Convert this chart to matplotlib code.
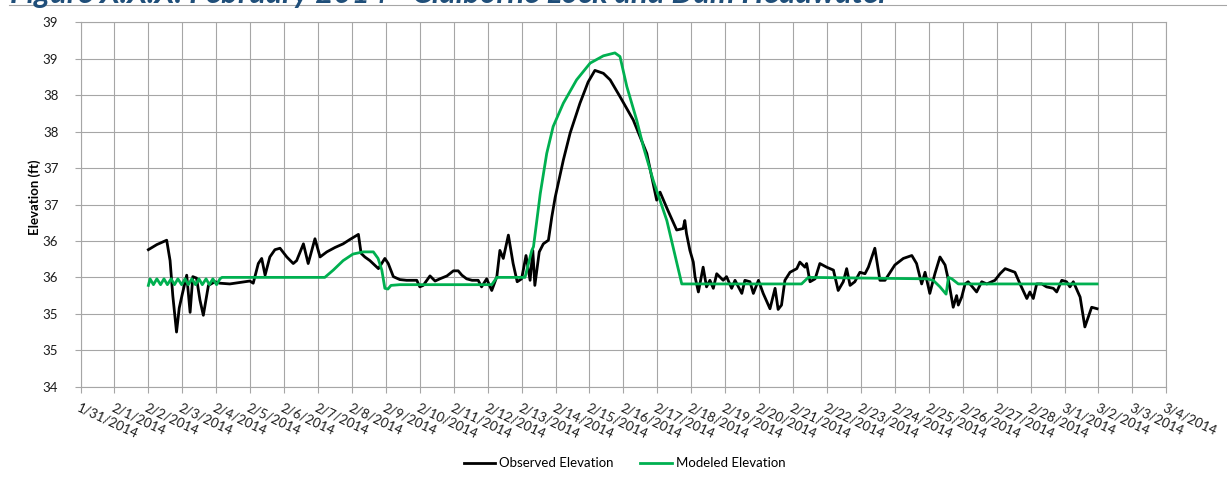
import matplotlib
matplotlib.use("Agg")
import matplotlib.pyplot as plt
import matplotlib.dates as mdates
from matplotlib.lines import Line2D
from matplotlib.ticker import FuncFormatter, MultipleLocator
import numpy as np
import pandas as pd

plt.rcParams["font.family"] = ["Lato", "DejaVu Sans"]

title = "Figure X.X.X: February 2014 - Claiborne Lock and Dam Headwater"
start = pd.Timestamp("2014-02-02")

# days since 2/2/2014 00:00 and headwater elevation (ft)
obs_day = [0.00, 0.25, 0.54, 0.64, 0.72, 0.83, 0.91, 0.99, 1.13, 1.23, 1.31, 1.42, 1.52, 1.62, 1.77,
           1.96, 2.11, 2.40, 2.70, 2.99, 3.09, 3.24, 3.34, 3.44, 3.58, 3.73, 3.88, 4.08, 4.27, 4.37,
           4.57, 4.71, 4.91, 5.06, 5.26, 5.50, 5.74, 5.94, 6.19, 6.27, 6.38, 6.53, 6.78, 6.97, 7.07,
           7.22, 7.41, 7.61, 7.71, 7.91, 8.00, 8.10, 8.30, 8.45, 8.59, 8.80, 8.99, 9.13, 9.24, 9.38,
           9.54, 9.72, 9.82, 9.97, 10.12, 10.27, 10.36, 10.46, 10.61, 10.75, 10.87, 11.00, 11.13, 11.25,
           11.33, 11.39, 11.52, 11.64, 11.79, 11.89, 11.99, 12.23, 12.43, 12.72, 12.96, 13.16, 13.41,
           13.61, 13.90, 14.29, 14.69, 14.98, 15.08, 15.31, 15.57, 15.76, 15.81, 15.86, 15.96, 16.06,
           16.11, 16.21, 16.35, 16.45, 16.55, 16.65, 16.75, 16.94, 17.04, 17.19, 17.29, 17.49, 17.58,
           17.73, 17.83, 17.98, 18.12, 18.32, 18.47, 18.56, 18.66, 18.76, 18.91, 19.11, 19.20, 19.35,
           19.40, 19.50, 19.65, 19.79, 19.99, 20.19, 20.33, 20.48, 20.58, 20.68, 20.82, 20.97, 21.12,
           21.22, 21.41, 21.56, 21.71, 21.86, 22.00, 22.25, 22.50, 22.64, 22.79, 22.89, 23.03, 23.18,
           23.33, 23.48, 23.58, 23.72, 23.82, 23.87, 23.97, 24.07, 24.16, 24.41, 24.56, 24.71, 24.95,
           25.10, 25.25, 25.54, 25.69, 25.89, 25.98, 26.08, 26.18, 26.33, 26.47, 26.67, 26.77, 26.92,
           27.06, 27.16, 27.26, 27.46, 27.60, 27.80, 27.96]
obs_elev = [35.88, 35.95, 36.01, 35.73, 35.25, 34.75, 35.08, 35.25, 35.53, 35.02, 35.51, 35.49, 35.19, 34.98, 35.39,
            35.44, 35.42, 35.41, 35.43, 35.45, 35.42, 35.69, 35.76, 35.53, 35.78, 35.88, 35.90, 35.78, 35.69, 35.73,
            35.96, 35.69, 36.03, 35.78, 35.85, 35.91, 35.96, 36.02, 36.09, 35.83, 35.78, 35.73, 35.62, 35.76, 35.69,
            35.51, 35.47, 35.46, 35.46, 35.46, 35.37, 35.39, 35.52, 35.45, 35.48, 35.52, 35.59, 35.59, 35.53, 35.48,
            35.46, 35.46, 35.37, 35.48, 35.32, 35.51, 35.87, 35.76, 36.08, 35.69, 35.44, 35.48, 35.80, 35.46,
            35.87, 35.39, 35.85, 35.96, 36.01, 36.33, 36.60, 37.11, 37.48, 37.89, 38.18, 38.34, 38.30,
            38.21, 37.98, 37.66, 37.20, 36.56, 36.67, 36.42, 36.15, 36.17, 36.28, 36.10, 35.87, 35.71,
            35.51, 35.30, 35.64, 35.37, 35.46, 35.35, 35.55, 35.46, 35.51, 35.35, 35.46, 35.28, 35.46,
            35.44, 35.28, 35.46, 35.28, 35.07, 35.35, 35.06, 35.12, 35.46, 35.57, 35.62, 35.71, 35.64,
            35.69, 35.44, 35.48, 35.69, 35.64, 35.60, 35.32, 35.44, 35.62, 35.39, 35.44, 35.57, 35.55,
            35.64, 35.90, 35.46, 35.46, 35.57, 35.67, 35.76, 35.80, 35.69, 35.41, 35.57, 35.28, 35.55,
            35.78, 35.67, 35.46, 35.09, 35.25, 35.12, 35.23, 35.41, 35.44, 35.30, 35.44, 35.41, 35.46,
            35.55, 35.62, 35.57, 35.41, 35.21, 35.30, 35.21, 35.41, 35.41, 35.37, 35.35, 35.30, 35.46,
            35.44, 35.37, 35.44, 35.23, 34.82, 35.09, 35.07]

mod_day = [0.00, 0.05, 0.15, 0.25, 0.36, 0.46, 0.56, 0.67, 0.77, 0.87, 0.98, 1.08, 1.18, 1.28, 1.39,
           1.49, 1.59, 1.70, 1.80, 1.90, 2.01, 2.11, 2.17, 5.20, 5.45, 5.74, 6.03, 6.33, 6.63, 6.77,
           6.88, 6.97, 7.06, 7.15, 7.41, 10.12, 10.27, 11.10, 11.30, 11.35, 11.55, 11.74, 11.93, 12.23,
           12.62, 13.02, 13.41, 13.75, 13.90, 14.10, 14.39, 14.59, 14.88, 15.28, 15.72, 19.25, 19.45,
           22.94, 23.13, 23.33, 23.51, 23.58, 23.68, 23.87, 27.36, 27.46, 27.96]
mod_elev = [35.39, 35.48, 35.40, 35.48, 35.40, 35.48, 35.40, 35.48, 35.40, 35.48, 35.40, 35.48, 35.40, 35.48, 35.40,
            35.48, 35.40, 35.48, 35.40, 35.48, 35.40, 35.48, 35.50, 35.50, 35.60, 35.73, 35.82, 35.85, 35.85, 35.76,
            35.60, 35.35, 35.34, 35.39, 35.40, 35.40, 35.50, 35.50, 35.87, 35.92, 36.65, 37.20, 37.57, 37.89,
            38.21, 38.44, 38.54, 38.58, 38.53, 38.12, 37.66, 37.29, 36.83, 36.28, 35.41, 35.41, 35.50,
            35.48, 35.46, 35.37, 35.27, 35.50, 35.48, 35.41, 35.41, 35.41, 35.41]

obs_time = start + pd.to_timedelta(obs_day, unit="D")
mod_time = start + pd.to_timedelta(mod_day, unit="D")

W, H = 1227, 482
fig = plt.figure(figsize=(W / 100, H / 100), dpi=100)
ax = fig.add_axes([80.5 / W, 1 - 386.7 / H, (1166.3 - 80.5) / W, (386.7 - 22.3) / H])

grid_c = "#a6a6a6"
ax.plot(obs_time, obs_elev, color="black", lw=2.0, label="Observed Elevation", solid_joinstyle="round")
ax.plot(mod_time, mod_elev, color="#00b050", lw=2.0, label="Modeled Elevation", solid_joinstyle="round")

ax.set_xlim(pd.Timestamp("2014-01-31"), pd.Timestamp("2014-03-04"))
ax.set_ylim(34, 39)
ax.yaxis.set_major_locator(MultipleLocator(0.5))
# whole-number labels, rounded half up
ax.yaxis.set_major_formatter(FuncFormatter(lambda v, p: f"{int(np.floor(v + 0.5))}"))
ax.xaxis.set_major_locator(mdates.DayLocator())
ax.xaxis.set_major_formatter(FuncFormatter(
    lambda v, p: "{d.month}/{d.day}/{d.year}".format(d=mdates.num2date(v))))

ax.grid(True, color=grid_c, lw=0.8)
ax.set_axisbelow(True)
for s in ax.spines.values():
    s.set_color(grid_c)
    s.set_linewidth(0.8)
ax.tick_params(axis="both", color=grid_c, length=4, width=0.8, labelsize=9.5, labelcolor="#1a1a1a")
ax.tick_params(axis="y", pad=12)
ax.tick_params(axis="x", pad=7)
for lab in ax.get_xticklabels():
    lab.set_rotation(-25)
    lab.set_ha("left")
    lab.set_va("top")
    lab.set_rotation_mode("anchor")

ax.set_ylabel("Elevation (ft)", fontsize=9.5, fontweight="bold")
ax.yaxis.set_label_coords(-(80.5 - 41) / (1166.3 - 80.5), 0.52)

fig.legend(loc="center", bbox_to_anchor=(0.509, 0.039), ncol=2, frameon=False, fontsize=9.5,
           handlelength=2.4, handletextpad=0.3, columnspacing=2.0)

# report heading sits just above the chart, its top trimmed by the page edge
fig.text(10 / W, 1 - 3.5 / H, title, fontsize=22.5, fontweight="bold", fontstyle="italic",
         color="#1f4e79", va="baseline", ha="left")
fig.add_artist(Line2D([9 / W, 1.0], [1 - 5.3 / H, 1 - 5.3 / H], color="#a6a6a6", lw=0.8))

fig.savefig("out.png", dpi=100)
